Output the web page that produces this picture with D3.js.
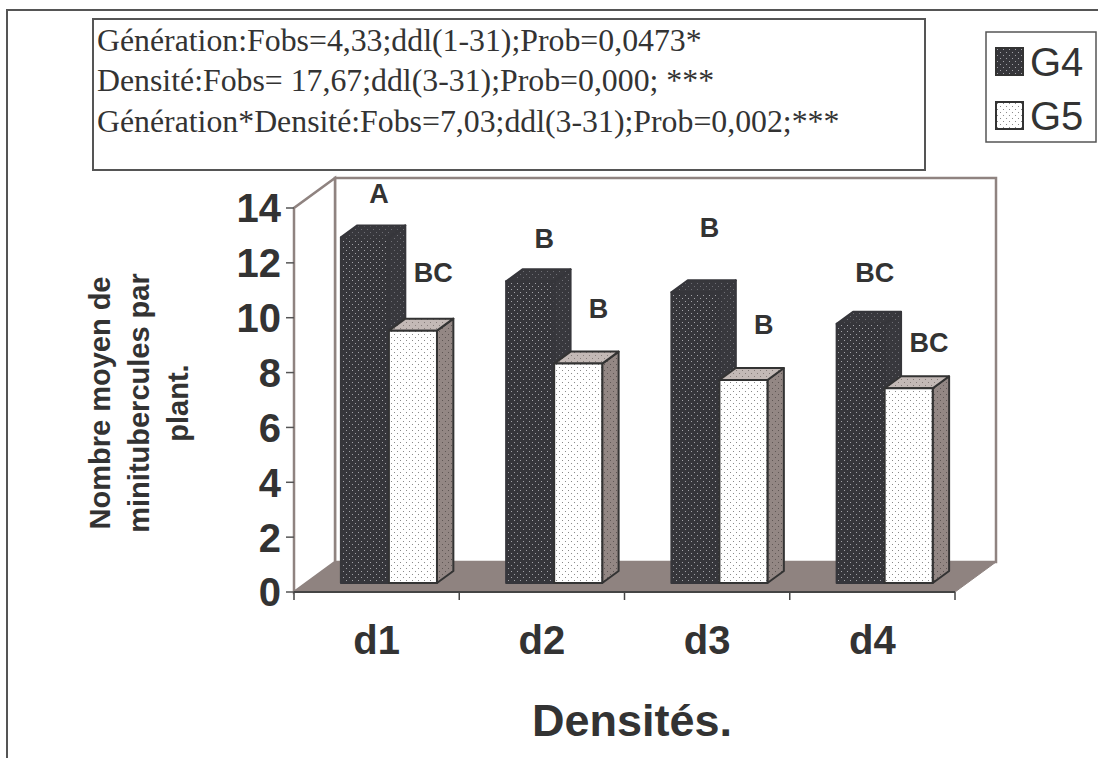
<!DOCTYPE html>
<html><head><meta charset="utf-8">
<script src="https://cdn.jsdelivr.net/npm/d3@7"></script>
<style>body{margin:0;background:#fff}svg{display:block}</style>
</head><body>
<script>
// ---- data ----
const categories = ["d1", "d2", "d3", "d4"];
const seriesNames = ["G4", "G5"];
const g4Values = [12.6, 11.0, 10.6, 9.45];
const g5Values = [9.2, 8.0, 7.4, 7.1];
const g4Letters = ["A", "B", "B", "BC"];
const g5Letters = ["BC", "B", "B", "BC"];
// height (in axis units) at which each significance letter sits
const g4LetterLevel = [14.55, 12.9, 13.3, 11.65];
const g5LetterLevel = [11.65, 10.35, 9.75, 9.1];
const yTicks = [0, 2, 4, 6, 8, 10, 12, 14];
const statsLines = [
  "Génération:Fobs=4,33;ddl(1-31);Prob=0,0473*",
  "Densité:Fobs= 17,67;ddl(3-31);Prob=0,000; ***",
  "Génération*Densité:Fobs=7,03;ddl(3-31);Prob=0,002;***"
];
const yTitleLines = ["Nombre moyen de", "minitubercules par", "plant."];
const xTitle = "Densités.";

// ---- layout ----
const W = 1098, H = 758;
const plot = {left: 294, right: 955, bottom: 592, top: 208};
const depth = {dx: 41, dy: -30};        // full box depth offset
const barZ = [0.3, 0.7];                  // bar position inside the depth
const wallCol = "#8f8380", darkCol = "#36363b", inkCol = "#333333";

const svg = d3.select("body").append("svg").attr("width", W).attr("height", H);
const defs = svg.append("defs");

function dotPattern(id, bg, dot, sx, sy) {
  const p = defs.append("pattern").attr("id", id).attr("patternUnits", "userSpaceOnUse")
    .attr("width", sx * 2).attr("height", sy * 2);
  p.append("rect").attr("width", sx * 2).attr("height", sy * 2).attr("fill", bg);
  p.append("rect").attr("x", 1).attr("y", 1).attr("width", 1).attr("height", 1).attr("fill", dot);
  p.append("rect").attr("x", 1 + sx).attr("y", 1 + sy).attr("width", 1).attr("height", 1).attr("fill", dot);
}
dotPattern("g4front", darkCol, "#a3a3a8", 3, 3);
dotPattern("g4side", "#38383d", "#6e6e74", 3, 3);
dotPattern("g5front", "#ffffff", "#8a8a8a", 3, 3);
dotPattern("g5side", "#938784", "#5e5654", 3, 3);
dotPattern("g5top", "#c3b9b6", "#857c79", 3, 3);

const x0 = d3.scaleBand().domain(categories).range([plot.left, plot.right]).paddingInner(0).paddingOuter(0);
const x1 = d3.scaleBand().domain(seriesNames).range([0, x0.bandwidth()]).paddingInner(0).paddingOuter(0.72);
const y = d3.scaleLinear().domain([0, 14]).range([plot.bottom, plot.top]);

const P = (x, v, z) => [x + z * depth.dx, y(v) + z * depth.dy];
const poly = pts => "M" + pts.map(p => p.join(",")).join("L") + "Z";

// outer frame
svg.append("path").attr("d", `M7,${H}L7,10L${W},10`).attr("fill", "none")
  .attr("stroke", "#555").attr("stroke-width", 2);

// back wall, side wall and floor
const L = plot.left, R = plot.right;
svg.append("path").attr("d", poly([P(L, 0, 1), P(L, 14, 1), P(R, 14, 1), P(R, 0, 1)]))
  .attr("fill", "#fff").attr("stroke", wallCol).attr("stroke-width", 2.5);
svg.append("path").attr("d", poly([P(L, 0, 0), P(L, 14, 0), P(L, 14, 1), P(L, 0, 1)]))
  .attr("fill", "#fff").attr("stroke", wallCol).attr("stroke-width", 2.5);
svg.append("path").attr("d", poly([P(L, 0, 0), P(R, 0, 0), P(R, 0, 1), P(L, 0, 1)]))
  .attr("fill", wallCol).attr("stroke", wallCol).attr("stroke-width", 1);

// y axis ticks and labels
const yAxis = svg.append("g");
yAxis.selectAll("line").data(yTicks).join("line")
  .attr("x1", L - 8).attr("x2", L).attr("y1", d => y(d)).attr("y2", d => y(d))
  .attr("stroke", "#555").attr("stroke-width", 1.5);
yAxis.selectAll("text").data(yTicks).join("text")
  .attr("x", L - 13).attr("y", d => y(d)).attr("dy", "0.36em")
  .attr("text-anchor", "end").attr("font-family", "Liberation Sans, Arial, sans-serif")
  .attr("font-weight", "bold").attr("font-size", 40).attr("fill", inkCol).text(d => d);

// x axis line and ticks
svg.append("line").attr("x1", L).attr("x2", R).attr("y1", plot.bottom).attr("y2", plot.bottom)
  .attr("stroke", "#444").attr("stroke-width", 2);
const xBounds = categories.map(c => x0(c)).concat([R]);
svg.selectAll(".xt").data(xBounds).join("line").attr("class", "xt")
  .attr("x1", d => d).attr("x2", d => d).attr("y1", plot.bottom).attr("y2", plot.bottom + 8)
  .attr("stroke", "#444").attr("stroke-width", 1.5);
svg.selectAll(".xl").data(categories).join("text").attr("class", "xl")
  .attr("x", d => x0(d) + x0.bandwidth() / 2).attr("y", 640).attr("dy", "0.36em")
  .attr("text-anchor", "middle").attr("font-family", "Liberation Sans, Arial, sans-serif")
  .attr("font-weight", "bold").attr("font-size", 40).attr("fill", inkCol).text(d => d);

// 3-D bars
const series = [
  {name: "G4", values: g4Values, letters: g4Letters, levels: g4LetterLevel,
   front: "url(#g4front)", side: "url(#g4side)", top: "url(#g4side)", stroke: darkCol, shift: 6},
  {name: "G5", values: g5Values, letters: g5Letters, levels: g5LetterLevel,
   front: "url(#g5front)", side: "url(#g5side)", top: "url(#g5top)", stroke: "#333", shift: 12}
];
const bars = svg.append("g");
categories.forEach((c, i) => {
  series.forEach(s => {
    const xa = x0(c) + x1(s.name), xb = xa + x1.bandwidth(), v = s.values[i];
    const [za, zb] = barZ;
    const g = bars.append("g").attr("stroke", s.stroke).attr("stroke-width", 2).attr("stroke-linejoin", "round");
    g.append("path").attr("d", poly([P(xb, 0, za), P(xb, v, za), P(xb, v, zb), P(xb, 0, zb)])).attr("fill", s.side);
    g.append("path").attr("d", poly([P(xa, v, za), P(xb, v, za), P(xb, v, zb), P(xa, v, zb)])).attr("fill", s.top);
    g.append("path").attr("d", poly([P(xa, 0, za), P(xb, 0, za), P(xb, v, za), P(xa, v, za)])).attr("fill", s.front);
  });
});

// significance letters
const letters = svg.append("g").attr("font-family", "Liberation Sans, Arial, sans-serif")
  .attr("font-weight", "bold").attr("font-size", 27).attr("fill", inkCol).attr("text-anchor", "middle");
categories.forEach((c, i) => {
  series.forEach(s => {
    const xc = x0(c) + x1(s.name) + x1.bandwidth() / 2 + 0.5 * (barZ[0] + barZ[1]) * depth.dx + s.shift;
    letters.append("text").attr("x", xc).attr("y", y(s.levels[i])).attr("dy", "0.36em").text(s.letters[i]);
  });
});

// axis titles
const yt = svg.append("g").attr("transform", "translate(110,403) rotate(-90)")
  .attr("font-family", "Liberation Sans, Arial, sans-serif").attr("font-weight", "bold")
  .attr("font-size", 29).attr("fill", inkCol).attr("text-anchor", "middle");
yTitleLines.forEach((t, k) => yt.append("text").attr("x", 0).attr("y", k * 39).text(t));
svg.append("text").attr("x", 632).attr("y", 720).attr("dy", "0.36em").attr("text-anchor", "middle")
  .attr("font-family", "Liberation Sans, Arial, sans-serif").attr("font-weight", "bold")
  .attr("font-size", 45).attr("fill", inkCol).text(xTitle);

// statistics box
svg.append("rect").attr("x", 93).attr("y", 19).attr("width", 832).attr("height", 151)
  .attr("fill", "#fff").attr("stroke", "#555").attr("stroke-width", 2);
const baselines = [51, 91, 132];
statsLines.forEach((t, k) => {
  svg.append("text").attr("x", 97).attr("y", baselines[k])
    .attr("font-family", "Liberation Serif, Times New Roman, serif").attr("font-size", 31.8)
    .attr("fill", inkCol).text(t);
});

// legend
const lg = svg.append("g");
lg.append("rect").attr("x", 986).attr("y", 32).attr("width", 110).attr("height", 110)
  .attr("fill", "#fff").attr("stroke", "#555").attr("stroke-width", 1.5);
[["G4", "url(#g4front)", 48], ["G5", "url(#g5front)", 102]].forEach(([n, f, top]) => {
  lg.append("rect").attr("x", 996).attr("y", top).attr("width", 27).attr("height", 27)
    .attr("fill", f).attr("stroke", "#333").attr("stroke-width", 2);
  lg.append("text").attr("x", 1030).attr("y", top + 13.5).attr("dy", "0.36em")
    .attr("font-family", "Liberation Sans, Arial, sans-serif").attr("font-size", 40)
    .attr("fill", inkCol).text(n);
});
</script>
</body></html>
